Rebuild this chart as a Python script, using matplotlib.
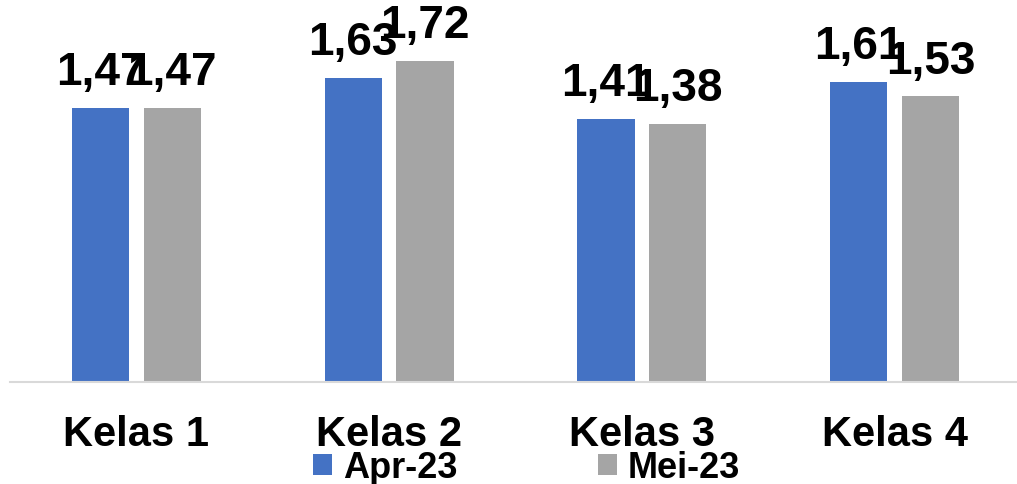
import numpy as np
import matplotlib
matplotlib.use("Agg")
from matplotlib import pyplot as plt

categories = ["Kelas 1", "Kelas 2", "Kelas 3", "Kelas 4"]
apr_23 = [1.47, 1.63, 1.41, 1.61]
mei_23 = [1.47, 1.72, 1.38, 1.53]
series_names = ["Apr-23", "Mei-23"]

plt.rcParams['font.family'] = ['Liberation Sans', 'DejaVu Sans']
plt.rcParams['font.weight'] = 'bold'

fig = plt.figure(figsize=(10.17, 4.85), dpi=100)
ax = fig.add_axes([10 / 1017, 102.3 / 485, 1011 / 1017, 382.7 / 485])

x = np.arange(len(categories))
w = 0.226
off = 0.142
b1 = ax.bar(x - off, apr_23, w, color='#4472C4', label=series_names[0])
b2 = ax.bar(x + off, mei_23, w, color='#A5A5A5', label=series_names[1])

for bars, vals in ((b1, apr_23), (b2, mei_23)):
    for r, v in zip(bars, vals):
        ax.text(r.get_x() + r.get_width() / 2, v + 0.075, f"{v:.2f}".replace('.', ','),
                ha='center', va='bottom', fontsize=33, fontweight='bold')

ax.set_xlim(-0.5, 3.5)
ax.set_ylim(0, 2.053)
ax.set_yticks([])
ax.set_xticks(x)
ax.set_xticklabels(categories, fontsize=30, fontweight='bold')
ax.tick_params(axis='x', length=0, pad=23)
for s in ['top', 'right', 'left']:
    ax.spines[s].set_visible(False)
ax.spines['bottom'].set_color('#D9D9D9')
ax.spines['bottom'].set_linewidth(1.5)

fig.legend(handles=[b1, b2], labels=series_names, loc='center', ncol=2,
           bbox_to_anchor=(526.5 / 1017, 16 / 485), frameon=False,
           prop={'size': 26, 'weight': 'bold'}, handlelength=0.53, handleheight=0.53,
           handletextpad=0.3, columnspacing=3.9, borderpad=0, borderaxespad=0)

fig.savefig('out.png', dpi=100)
